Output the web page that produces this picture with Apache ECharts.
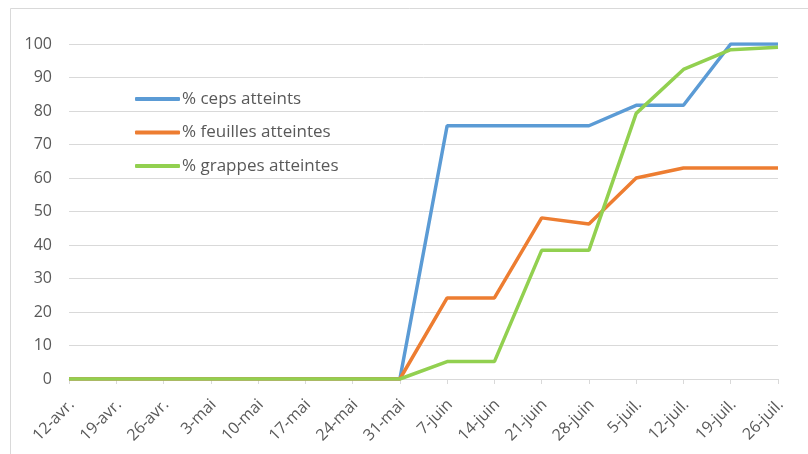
<!DOCTYPE html>
<html>
<head>
<meta charset="utf-8">
<script src="https://cdn.jsdelivr.net/npm/echarts@6/dist/echarts.min.js"></script>
<style>
  html, body { margin: 0; padding: 0; background: #fff; }
  #chart { width: 808px; height: 454px; }
</style>
</head>
<body>
<div id="chart"></div>
<script>
  // dates (semaines)
  const categories = ['12-avr.', '19-avr.', '26-avr.', '3-mai', '10-mai', '17-mai', '24-mai', '31-mai',
    '7-juin', '14-juin', '21-juin', '28-juin', '5-juil.', '12-juil.', '19-juil.', '26-juil.'];
  const ceps = [0, 0, 0, 0, 0, 0, 0, 0, 75.6, 75.6, 75.6, 75.6, 81.7, 81.7, 100, 100];
  const feuilles = [0, 0, 0, 0, 0, 0, 0, 0, 24.2, 24.2, 48.1, 46.3, 60, 63, 63, 63];
  const grappes = [0, 0, 0, 0, 0, 0, 0, 0, 5.2, 5.2, 38.4, 38.4, 79.3, 92.4, 98.3, 99];
  const yTicks = [0, 10, 20, 30, 40, 50, 60, 70, 80, 90, 100];

  const font = 'Open Sans';
  const chart = echarts.init(document.getElementById('chart'));

  function line(name, data, color) {
    return {
      name: name,
      type: 'line',
      data: data,
      symbol: 'none',
      color: color,
      lineStyle: { width: 3.5, color: color }
    };
  }

  let option = {
    animation: false,
    backgroundColor: '#fff',
    textStyle: { fontFamily: font },
    graphic: [{
      type: 'rect',
      shape: { x: 10.5, y: 8.5, width: 900, height: 600 },
      style: { fill: 'none', stroke: '#d9d9d9', lineWidth: 1 },
      silent: true
    }],
    grid: { left: 69, right: 30, top: 44, bottom: 75 },
    legend: {
      orient: 'vertical',
      left: 130,
      top: 85,
      itemWidth: 45,
      itemHeight: 4,
      itemGap: 15.5,
      icon: 'roundRect',
      textStyle: { fontFamily: font, fontSize: 17, color: '#595959', lineHeight: 18, padding: [0, 0, 0, -3] },
      data: ['% ceps atteints', '% feuilles atteintes', '% grappes atteintes']
    },
    xAxis: {
      type: 'category',
      data: categories,
      boundaryGap: false,
      axisLine: { lineStyle: { color: '#d9d9d9', width: 1 } },
      axisTick: { show: true, length: 5, lineStyle: { color: '#d9d9d9' } },
      axisLabel: {
        rotate: 45,
        interval: 0,
        margin: 26,
        padding: [6, -4, 0, 0],
        fontFamily: font,
        fontSize: 16,
        color: '#595959'
      }
    },
    yAxis: {
      type: 'value',
      min: yTicks[0],
      max: yTicks[yTicks.length - 1],
      interval: 10,
      axisLine: { show: false },
      axisTick: { show: false },
      splitLine: { lineStyle: { color: '#d9d9d9', width: 1 } },
      axisLabel: { margin: 17, fontFamily: font, fontSize: 16, color: '#595959' }
    },
    series: [
      line('% ceps atteints', ceps, '#5B9BD5'),
      line('% feuilles atteintes', feuilles, '#ED7D31'),
      line('% grappes atteintes', grappes, '#92D050')
    ]
  };
  chart.setOption(option);
</script>
</body>
</html>
